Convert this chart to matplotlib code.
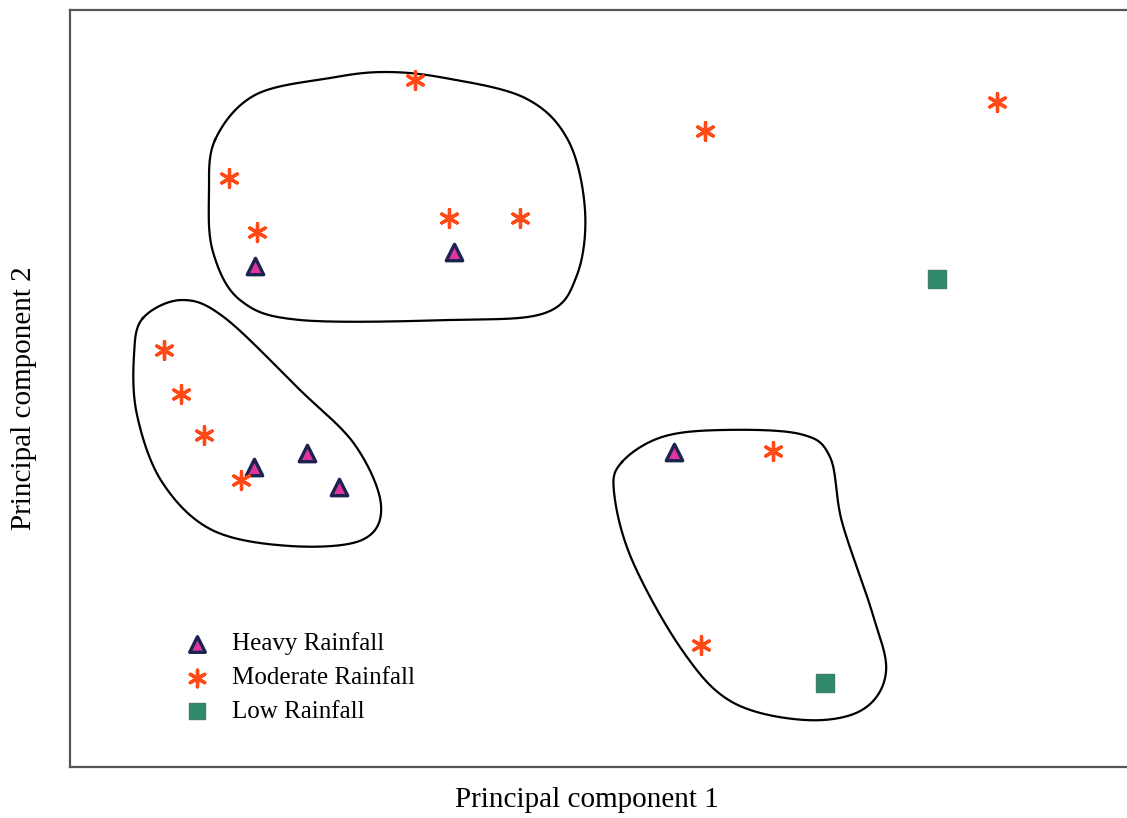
import numpy as np
import matplotlib
matplotlib.use("Agg")
from matplotlib import pyplot as plt

plt.rcParams['font.family'] = ['Liberation Serif', 'DejaVu Serif']

# point positions (PC1 right, PC2 up, arbitrary units)
heavy_x = [255, 454, 254, 307, 339, 674]
heavy_y = [266, 252, 467, 453, 487, 452]
moderate_x = [415, 229, 257, 449, 520, 705, 997, 164, 181, 204, 241, 773, 701]
moderate_y = [80, 178, 232, 218, 218, 131, 102, 350, 394, 435, 480, 451, 645]
low_x = [937, 825]
low_y = [279, 683]

# hand drawn cluster outlines (control points)
cluster_a = [(215, 140), (255, 95), (330, 78), (385, 72), (445, 78), (525, 98),
             (568, 140), (585, 210), (577, 275), (545, 313), (450, 320),
             (300, 320), (240, 300), (213, 252), (209, 195)]
cluster_b = [(143, 318), (182, 300), (225, 318), (300, 390), (355, 445),
             (381, 505), (362, 540), (290, 546), (212, 530), (162, 482),
             (137, 415), (134, 355)]
cluster_c = [(622, 462), (662, 437), (722, 430), (800, 434), (830, 457),
             (842, 522), (872, 612), (886, 672), (862, 710), (805, 720),
             (732, 702), (682, 650), (632, 560), (614, 492)]


def closed_curve(pts, n=30):
    # closed catmull-rom spline through the control points
    p = np.array(pts, dtype=float)
    k = len(p)
    out = []
    for i in range(k):
        p0, p1, p2, p3 = p[(i - 1) % k], p[i], p[(i + 1) % k], p[(i + 2) % k]
        t = np.linspace(0, 1, n, endpoint=False)[:, None]
        seg = 0.5 * ((2 * p1) + (-p0 + p2) * t + (2 * p0 - 5 * p1 + 4 * p2 - p3) * t ** 2
                     + (-p0 + 3 * p1 - 3 * p2 + p3) * t ** 3)
        out.append(seg)
    out.append(p[:1])
    return np.vstack(out)


fig = plt.figure(figsize=(11.27, 8.18), dpi=100)
ax = fig.add_axes([70 / 1127, 1 - 767 / 818, (1127 - 70) / 1127, (767 - 10) / 818])
ax.set_xlim(70, 1127)
ax.set_ylim(767, 10)

for c in [cluster_a, cluster_b, cluster_c]:
    xy = closed_curve(c)
    ax.plot(xy[:, 0], xy[:, 1], color='black', lw=1.6, zorder=1)

ax.scatter(heavy_x, heavy_y, marker='^', s=140, c='#e0359e', edgecolors='#1c2350',
           linewidths=2.4, zorder=3, label='Heavy Rainfall')
ax.scatter(moderate_x, moderate_y, marker=(6, 2, 0), s=160, c='#ff4a17',
           linewidths=2.4, zorder=3, label='Moderate Rainfall')
ax.scatter(low_x, low_y, marker='s', s=160, c='#2e8a6a', edgecolors='#3f7f68',
           linewidths=1, zorder=3, label='Low Rainfall')

ax.set_xticks([])
ax.set_yticks([])
ax.spines['right'].set_visible(False)
for s in ['left', 'top', 'bottom']:
    ax.spines[s].set_color('#555555')
    ax.spines[s].set_linewidth(1.6)

fig.text(587 / 1127, 1 - 800 / 818, 'Principal component 1', ha='center', va='center',
         fontsize=21)
fig.text(24 / 1127, 1 - 398 / 818, 'Principal component 2', ha='center', va='center',
         rotation=90, fontsize=21)

ax.legend(loc='upper left', bbox_to_anchor=(102 / 1057, 1 - 610 / 757), frameon=False,
          fontsize=18, handletextpad=0.9, labelspacing=0.45, borderpad=0,
          handlelength=1.0, markerscale=0.95)

fig.savefig('out.png', dpi=100, facecolor='white')
